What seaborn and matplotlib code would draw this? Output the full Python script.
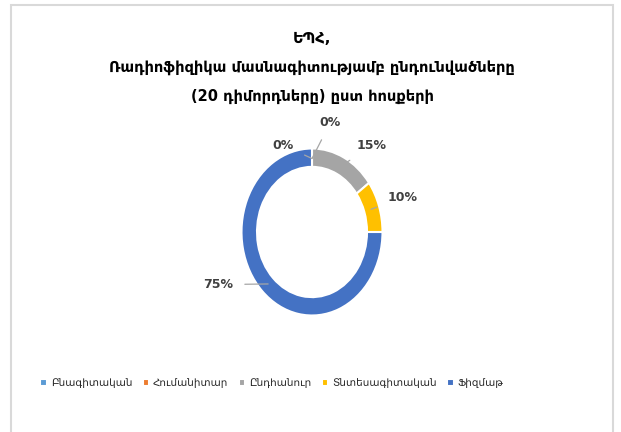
import matplotlib
matplotlib.use("Agg")
import matplotlib.pyplot as plt
import numpy as np
import seaborn as sns
from matplotlib.patches import Rectangle

# streams and number of admitted applicants (20 total)
streams = ["Բնագիտական", "Հումանիտար", "Ընդհանուր", "Տնտեսագիտական", "Ֆիզմաթ"]
counts = [0, 0, 3, 2, 15]
colors = ["#5B9BD5", "#ED7D31", "#A5A5A5", "#FFC000", "#4472C4"]
title = "ԵՊՀ,\nՌադիոֆիզիկա մասնագիտությամբ ընդունվածները\n(20 դիմորդները) ըստ հոսքերի"

# where each percent label sits (axes data units, ring radius = 1)
label_pos = [(-0.41, 1.04), (0.26, 1.31), (0.85, 1.03), (1.29, 0.41), (-1.33, -0.63)]

sns.set_theme(style="white")
plt.rcParams["font.family"] = ["DejaVu Sans"]

W, H = 621, 432
fig = plt.figure(figsize=(W / 100, H / 100), dpi=100)
fig.patch.set_facecolor("white")

# ring is a bit taller than wide in the reference
cx, cy, rx, ry = 312, 232, 70.5, 83.5
pad = 1.05
ax = fig.add_axes([(cx - rx * pad) / W, (H - cy - ry * pad) / H,
                   2 * rx * pad / W, 2 * ry * pad / H])

wedges, _ = ax.pie(counts, colors=colors, startangle=90, counterclock=False,
                   radius=1, wedgeprops=dict(width=0.22, edgecolor="white", linewidth=1.5))
ax.set_aspect("auto")
ax.set_xlim(-pad, pad)
ax.set_ylim(-pad, pad)
ax.axis("off")

total = sum(counts)
for w, c, (tx, ty) in zip(wedges, counts, label_pos):
    mid = np.deg2rad((w.theta1 + w.theta2) / 2)
    px, py = 0.88 * np.cos(mid), 0.88 * np.sin(mid)
    ax.annotate(f"{c / total * 100:.0f}%", xy=(px, py), xytext=(tx, ty),
                ha="center", va="center", fontsize=9, fontweight="bold", color="#404040",
                arrowprops=dict(arrowstyle="-", color="#A6A6A6", lw=0.9,
                                shrinkA=6, shrinkB=0))

fig.text(cx / W, 1 - 31 / H, title, ha="center", va="top", fontsize=10.5,
         fontweight="bold", color="black", linespacing=2.15)

fig.legend(wedges, streams, loc="center", bbox_to_anchor=(272 / W, 1 - 383 / H),
           ncol=5, frameon=False, fontsize=7.5, handlelength=0.6, handleheight=0.7,
           handletextpad=0.4, columnspacing=1.0, labelcolor="#262626")

fig.patches.append(Rectangle((11 / W, -0.05), (613 - 11) / W, (H - 5) / H + 0.05,
                             transform=fig.transFigure, fill=False,
                             edgecolor="#D9D9D9", lw=1.5))

fig.savefig("out.png", dpi=100)
